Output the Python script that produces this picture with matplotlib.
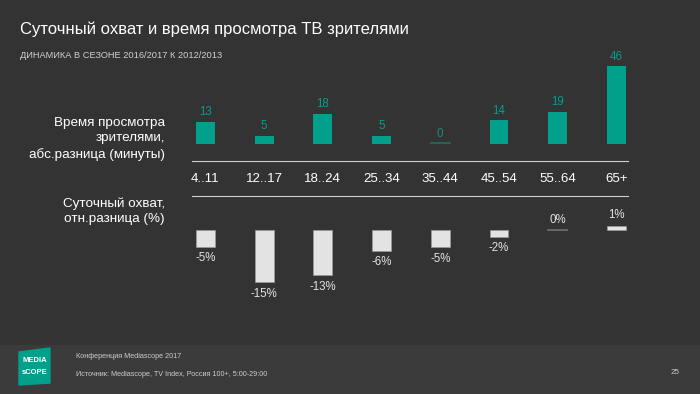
import matplotlib
matplotlib.use("Agg")
import matplotlib.pyplot as plt
from matplotlib.patches import Polygon, Rectangle

plt.rcParams['font.family'] = ['Liberation Sans', 'DejaVu Sans']

# data
ages = ["4..11", "12..17", "18..24", "25..34", "35..44", "45..54", "55..64", "65+"]
time_diff = [13, 5, 18, 5, 0, 14, 19, 46]          # минуты
reach_diff = [-5, -15, -13, -6, -5, -2, 0, 1]       # %
reach_bar = [-4.9, -15.2, -13.1, -6.0, -5.0, -1.9, 0, 1.3]

BG = "#333333"
TEAL = "#00a08a"
LIGHT = "#e3e3e3"
W, H = 700, 394

fig = plt.figure(figsize=(7, 3.94), dpi=100, facecolor=BG)

# background / text layer in pixel coords
bg = fig.add_axes([0, 0, 1, 1])
bg.set_xlim(0, W)
bg.set_ylim(H, 0)
bg.axis("off")
bg.add_patch(Rectangle((0, 345), W, 49, color="#3b3b3b", zorder=0))

bg.text(20, 29, "Суточный охват и время просмотра ТВ зрителями", color="white",
        fontsize=12, va="center", ha="left")
bg.text(20, 55, "ДИНАМИКА В СЕЗОНЕ 2016/2017 К 2012/2013", color="#d0d0d0",
        fontsize=6.7, va="center", ha="left")

bg.text(165, 139, "Время просмотра\nзрителями,\nабс.разница (минуты)", color="white",
        fontsize=9.7, ha="right", va="center", linespacing=1.35)
bg.text(165, 211, "Суточный охват,\nотн.разница (%)", color="white",
        fontsize=9.7, ha="right", va="center", linespacing=1.35)

bg.plot([192, 628], [161, 161], color="#cfcfcf", lw=0.8)
bg.plot([192, 628], [196, 196], color="#cfcfcf", lw=0.8)

# logo
bg.add_patch(Polygon([(19, 352), (50, 348), (50, 383), (19, 385)], closed=True,
                     color=TEAL, zorder=2))
bg.text(34.5, 361, "MEDIA", color="white", fontsize=5.5, ha="center", va="center",
        fontweight="bold", zorder=3)
bg.text(34.5, 372, "sCOPE", color="white", fontsize=5.5, ha="center", va="center",
        fontweight="bold", zorder=3)

bg.text(76, 356, "Конференция Mediascope 2017", color="#cccccc", fontsize=5.2,
        va="center", ha="left")
bg.text(76, 374, "Источник: Mediascope, TV Index, Россия 100+, 5:00-29:00",
        color="#cccccc", fontsize=5.2, va="center", ha="left")
bg.text(675, 373, "25", color="#cccccc", fontsize=5.8, va="center", ha="center")

x = list(range(len(ages)))
xl = (-0.23, 7.2)


def px_axes(left, top, right, bottom):
    return fig.add_axes([left / W, 1 - bottom / H, (right - left) / W, (bottom - top) / H])


# top chart
ax1 = px_axes(192, 60, 628, 144)
ax1.set_xlim(*xl)
ax1.set_ylim(0, 84 / 1.69)
ax1.axis("off")
ax1.patch.set_alpha(0)
ax1.bar(x, time_diff, width=0.32, color=TEAL)
for xi, v in zip(x, time_diff):
    if v == 0:
        ax1.plot([xi - 0.16, xi + 0.16], [0.3, 0.3], color="#1f6f63", lw=1.2)
        ax1.text(xi, 2.5, str(v), color="#1f8a7a", fontsize=8.3, ha="center", va="bottom")
    else:
        ax1.text(xi, v + 2.2, str(v), color=TEAL, fontsize=8.3, ha="center", va="bottom")

# age labels
for xi, a in zip(x, ages):
    px = 192 + (xi - xl[0]) / (xl[1] - xl[0]) * 436
    bg.text(px, 178.5, a, color="white", fontsize=9.5, ha="center", va="center")

# bottom chart
ax2 = px_axes(192, 215, 628, 300)
ax2.set_xlim(*xl)
ax2.set_ylim(-70 / 3.45, 15 / 3.45)
ax2.axis("off")
ax2.patch.set_alpha(0)
ax2.bar(x, reach_bar, width=0.32, color=LIGHT, edgecolor="#9a9a9a", linewidth=0.5)
for xi, v, b in zip(x, reach_diff, reach_bar):
    if v < 0:
        ax2.text(xi, b - 1.6, f"{v}%", color=LIGHT, fontsize=8.3, ha="center", va="top")
    else:
        if v == 0:
            ax2.plot([xi - 0.16, xi + 0.16], [0, 0], color="#6a6a6a", lw=1.3)
        ax2.text(xi, b + 1.2, f"{v}%", color=LIGHT, fontsize=8.3, ha="center", va="bottom")

fig.savefig("out.png", dpi=100, facecolor=BG)
